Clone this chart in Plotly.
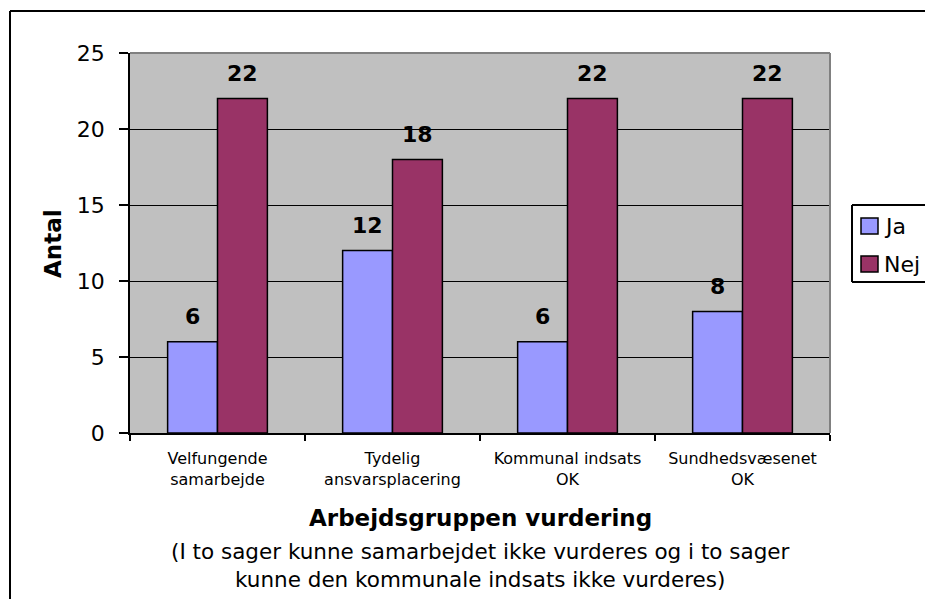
import plotly.graph_objects as go

# data
categories = ["Velfungende<br>samarbejde", "Tydelig<br>ansvarsplacering",
              "Kommunal indsats<br>OK", "Sundhedsvæsenet<br>OK"]
series_names = ["Ja", "Nej"]
ja_values = [6, 12, 6, 8]
nej_values = [22, 18, 22, 22]
y_ticks = [0, 5, 10, 15, 20, 25]

FONT = "DejaVu Sans"
COLORS = ["#9999FF", "#993366"]
PW, PH = 700, 380  # plot area size in px


def pline(x0, y0, x1, y1, color="black", width=2, layer="above"):
    # line in plot-area pixel units, measured from the plot's bottom-left corner
    fig.add_shape(type="line", xref="paper", yref="paper",
                  x0=x0 / PW, x1=x1 / PW, y0=y0 / PH, y1=y1 / PH,
                  line=dict(color=color, width=width), layer=layer)


fig = go.Figure()
for i, (name, vals) in enumerate(zip(series_names, [ja_values, nej_values])):
    fig.add_trace(go.Bar(
        x=categories, y=vals, name=name, showlegend=False,
        marker=dict(color=COLORS[i], line=dict(color="black", width=1.5)),
    ))
    # value labels above bars
    for c, v in zip(categories, vals):
        fig.add_annotation(x=c, y=v, text=f"<b>{v}</b>", showarrow=False,
                           xshift=-25 if i == 0 else 25, yshift=25,
                           xanchor="center", yanchor="middle",
                           font=dict(family=FONT, size=22, color="black"))

# outer chart frame: only left and top edges are inside the picture
pline(-120, -200, -120, 422)
pline(-120, 422, 820, 422)
# grey plot-area border, top and right
pline(0, PH, PW, PH, color="#808080")
pline(PW, 0, PW, PH, color="#808080")

# legend box, cut off at the right edge like the original
pline(722, 151, 722, 228)
pline(722, 228, 820, 228)
pline(722, 151, 820, 151)
for i, name in enumerate(series_names):
    yc = (207 - i * 38) / PH
    fig.add_shape(type="rect", xref="paper", yref="paper",
                  x0=731 / PW, x1=748 / PW, y0=yc - 8 / PH, y1=yc + 8 / PH,
                  fillcolor=COLORS[i], line=dict(color="black", width=1.5))
    fig.add_annotation(xref="paper", yref="paper", x=752 / PW, y=yc,
                       xanchor="left", yanchor="middle", text=name, showarrow=False,
                       font=dict(family=FONT, size=22, color="black"))

fig.add_annotation(xref="paper", yref="paper", x=0.5, y=-85 / PH,
                   xanchor="center", yanchor="middle",
                   text="<b>Arbejdsgruppen vurdering</b>", showarrow=False,
                   font=dict(family=FONT, size=23, color="black"))
fig.add_annotation(xref="paper", yref="paper", x=0.5, y=-132.5 / PH,
                   xanchor="center", yanchor="middle",
                   text="(I to sager kunne samarbejdet ikke vurderes og i to sager<br>"
                        "kunne den kommunale indsats ikke vurderes)",
                   showarrow=False, align="center",
                   font=dict(family=FONT, size=21.5, color="black"))
fig.add_annotation(xref="paper", yref="paper", x=-77 / PW, y=189 / PH,
                   xanchor="center", yanchor="middle",
                   text="<b>Antal</b>", textangle=-90, showarrow=False,
                   font=dict(family=FONT, size=23, color="black"))

# page body has an 8px margin; keep the figure inside the 933x607 window
fig.update_layout(
    width=917, height=591,
    margin=dict(l=122, r=95, t=45, b=166),
    paper_bgcolor="white", plot_bgcolor="#C0C0C0",
    barmode="group", bargap=0.43, bargroupgap=0,
    showlegend=False,
    xaxis=dict(
        type="category", tickson="boundaries", ticks="outside", ticklen=6,
        tickcolor="black", tickwidth=1.5, showline=True, linecolor="black", linewidth=1.5,
        tickfont=dict(family=FONT, size=16, color="black"), showgrid=False,
        ticklabelstandoff=10,
    ),
    yaxis=dict(
        range=[0, 25], tickvals=y_ticks, ticks="outside", ticklen=9,
        tickcolor="black", tickwidth=1.5, showline=True, linecolor="black", linewidth=1.5,
        showgrid=True, gridcolor="black", gridwidth=1, zeroline=False,
        tickfont=dict(family=FONT, size=22, color="black"), ticklabelstandoff=10,
    ),
)

fig.write_html("out.html")
